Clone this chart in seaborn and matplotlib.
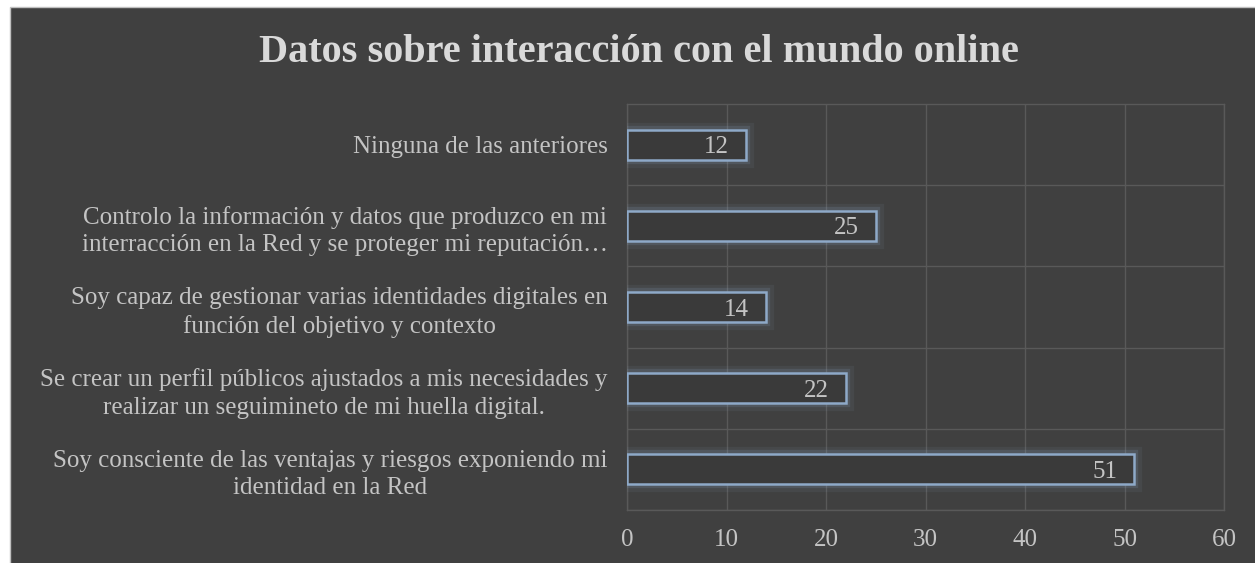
import numpy as np
import pandas as pd
import matplotlib
matplotlib.use('Agg')
import matplotlib.pyplot as plt
import matplotlib.patheffects as pe
from matplotlib.patches import Rectangle
import seaborn as sns

# Datos (de arriba a abajo)
categories = [
    'Ninguna de las anteriores',
    'Controlo la información y datos que produzco en mi\ninterracción en la Red y se proteger mi reputación…',
    'Soy capaz de gestionar varias identidades digitales en\nfunción del objetivo y contexto',
    'Se crear un perfil públicos ajustados a mis necesidades y\nrealizar un seguimineto de mi huella digital.',
    'Soy consciente de las ventajas y riesgos exponiendo mi\nidentidad en la Red',
]
values = [12, 25, 14, 22, 51]
x_ticks = [0, 10, 20, 30, 40, 50, 60]
title = 'Datos sobre interacción con el mundo online'

bg = '#404040'
grid_c = '#595959'
edge_c = '#8EA9C8'
text_c = '#C4C4C4'

sns.set_theme(style='dark')
plt.rcParams['font.family'] = ['Liberation Serif', 'DejaVu Serif']

W, H = 1255, 563
fig = plt.figure(figsize=(W / 100, H / 100), dpi=100, facecolor='white')

# fondo oscuro del grafico (con la franja blanca arriba)
fig.patches.append(Rectangle((10 / W, -0.01), 1 - 10 / W + 0.01, 1 - 7 / H + 0.01,
                             transform=fig.transFigure, facecolor=bg,
                             edgecolor='#C0C0C0', linewidth=1, zorder=-5))

ax = fig.add_axes([627 / W, 1 - 510 / H, (1224 - 627) / W, (510 - 104) / H])
ax.set_facecolor(bg)

df = pd.DataFrame({'categoria': categories, 'valor': values})
sns.barplot(data=df, x='valor', y='categoria', orient='h', ax=ax,
            width=0.37, color='#3b3b3b', saturation=1)

for p in ax.patches:
    p.set_facecolor('#3a3a3a')
    p.set_edgecolor(edge_c)
    p.set_linewidth(1.8)
    p.set_zorder(3)
    p.set_path_effects([pe.Stroke(linewidth=11, foreground=edge_c, alpha=0.08),
                        pe.Stroke(linewidth=6, foreground=edge_c, alpha=0.16),
                        pe.Normal()])

for i, v in enumerate(values):
    ax.annotate(str(v), xy=(v, i), xytext=(-12.5, 0), textcoords='offset points',
                ha='right', va='center_baseline', fontsize=18, color=text_c, zorder=4)

ax.set_xlim(0, 60)
ax.set_ylim(4.5, -0.5)
ax.set_xticks(x_ticks)
ax.set_yticks(np.arange(len(categories)) + 0.5, minor=True)
ax.xaxis.grid(True, color=grid_c, linewidth=1)
ax.yaxis.grid(True, which='minor', color=grid_c, linewidth=1)
ax.yaxis.grid(False, which='major')
ax.set_axisbelow(True)
for s in ax.spines.values():
    s.set_visible(True)
    s.set_color(grid_c)
    s.set_linewidth(1)

ax.set_xlabel('')
ax.set_ylabel('')
ax.tick_params(axis='both', which='both', length=0, colors=text_c, labelsize=18)
ax.tick_params(axis='x', pad=14)
ax.tick_params(axis='y', pad=14)
for lab in ax.get_yticklabels():
    lab.set_multialignment('center')
    lab.set_linespacing(1.32)

fig.text(0.509, 1 - 53 / H, title, ha='center', va='center', fontsize=29,
         fontweight='bold', color='#D9D9D9')

fig.savefig('out.png', dpi=100, facecolor='white')
